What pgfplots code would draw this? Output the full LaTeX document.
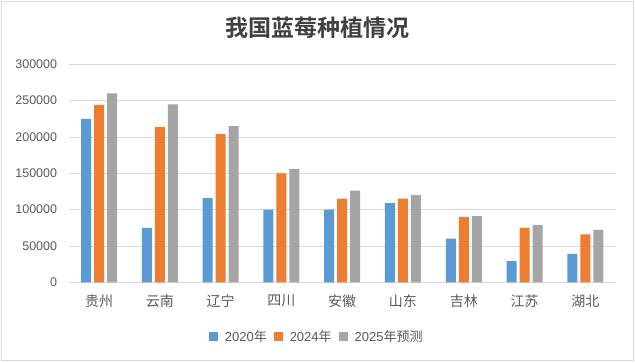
\documentclass[border=0pt]{standalone}
\usepackage{pgfplots}
\pgfplotsset{compat=1.18}
\usepackage{fontspec}
\setmainfont{Liberation Sans}
\newfontfamily\cjk{Noto Sans CJK SC}
\newfontfamily\cjkbold{Noto Sans CJK SC Bold}
\definecolor{cblue}{HTML}{5B9BD5}
\definecolor{corange}{HTML}{ED7D31}
\definecolor{cgray}{HTML}{A5A5A5}
\definecolor{txtgray}{HTML}{595959}
\definecolor{titlegray}{HTML}{404040}
\definecolor{gridgray}{HTML}{D9D9D9}
\begin{document}
\begin{tikzpicture}[x=1bp,y=1bp]
\path[use as bounding box] (0,0) rectangle (635,362);
\draw[gridgray, line width=0.75bp] (1.5,1.5) rectangle (633.5,360.5);
\node[font=\cjkbold\fontsize{23bp}{23bp}\selectfont, text=titlegray, inner sep=0pt] at (317,334.5) {我国蓝莓种植情况};
\begin{axis}[
  at={(68.7bp,79.7bp)}, anchor=south west,
  scale only axis, width=547bp, height=218bp,
  ybar=3bp, bar width=10bp,
  xmin=-0.5, xmax=8.5, ymin=0, ymax=300000,
  ytick={0,50000,100000,150000,200000,250000,300000},
  xtick={0,...,8},
  xticklabels={贵州,云南,辽宁,四川,安徽,山东,吉林,江苏,湖北},
  axis line style={draw=none},
  major tick length=0pt,
  ymajorgrids, grid style={gridgray, line width=0.75bp},
  scaled y ticks=false,
  yticklabel style={/pgf/number format/fixed, /pgf/number format/1000 sep={}, /pgf/number format/assume math mode=true,
    font=\fontsize{12.5bp}{12.5bp}\selectfont, text=txtgray, anchor=east, inner sep=0pt, xshift=-11.4bp},
  xticklabel style={font=\cjk\fontsize{14bp}{14bp}\selectfont, text=txtgray, anchor=center, inner sep=0pt, yshift=-18.7bp},
  legend columns=-1,
  legend style={at={(axis description cs:0.4534,-0.2486)}, anchor=center, draw=none,
    font=\fontsize{13bp}{13bp}\selectfont, text=txtgray,
    /tikz/every odd column/.append style={column sep=5bp},
    /tikz/every even column/.append style={column sep=5bp}},
  legend image code/.code={\path[#1] (0bp,-4.5bp) rectangle (9bp,4.5bp);},
]
\addplot[fill=cblue, draw=none] coordinates {(0,225000) (1,75000) (2,116000) (3,100000) (4,100000) (5,109000) (6,60000) (7,29000) (8,39000)};
\addplot[fill=corange, draw=none] coordinates {(0,244000) (1,214000) (2,204000) (3,150000) (4,115000) (5,115000) (6,90000) (7,75000) (8,66000)};
\addplot[fill=cgray, draw=none] coordinates {(0,260000) (1,245000) (2,215000) (3,156000) (4,126000) (5,120000) (6,91000) (7,79000) (8,72000)};
\legend{2020{\cjk 年}, 2024{\cjk 年}, 2025{\cjk 年预测}}
\end{axis}
\end{tikzpicture}
\end{document}
